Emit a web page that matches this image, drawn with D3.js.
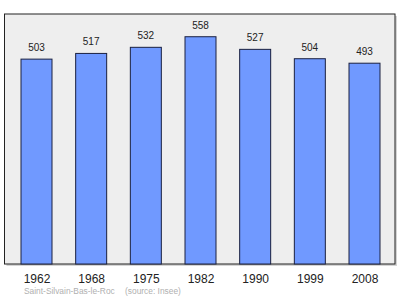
<!DOCTYPE html>
<html><head><meta charset="utf-8">
<script src="https://cdn.jsdelivr.net/npm/d3@7"></script>
<style>body{margin:0;background:#fff}svg{display:block}</style>
</head><body>
<svg id="c" width="400" height="299"></svg>
<script>
const years = ["1962","1968","1975","1982","1990","1999","2008"];
const population = [503,517,532,558,527,504,493];
const commune = "Saint-Silvain-Bas-le-Roc";
const source = "(source: Insee)";

const svg = d3.select("#c");
const frame = {l:4.5, t:14, r:395, b:264};
const x = d3.scalePoint().domain(years).range([36.5,364.5]);
const y = d3.scaleLinear().domain([0, 558*1.1]).range([frame.b, frame.t]);
const bw = 31;
const font = "'Liberation Sans', Arial, sans-serif";

svg.append("rect").attr("x",frame.l+2).attr("y",frame.t+2)
  .attr("width",frame.r-frame.l).attr("height",frame.b-frame.t).attr("fill","#d4d4d4");
svg.append("rect").attr("x",frame.l).attr("y",frame.t)
  .attr("width",frame.r-frame.l).attr("height",frame.b-frame.t)
  .attr("fill","#eeeeee").attr("stroke","#222").attr("stroke-width",1);

svg.selectAll("rect.bar").data(years).join("rect").attr("class","bar")
  .attr("x",d=>x(d)-bw/2).attr("width",bw)
  .attr("y",(d,i)=>y(population[i])).attr("height",(d,i)=>frame.b-y(population[i]))
  .attr("fill","#7099ff").attr("stroke","#1a2040").attr("stroke-width",1);

svg.selectAll("text.val").data(years).join("text").attr("class","val")
  .attr("x",d=>x(d)).attr("y",(d,i)=>y(population[i])-8)
  .attr("text-anchor","middle").attr("font-family",font).attr("font-size",10).attr("fill","#222")
  .text((d,i)=>population[i]);

const xa = svg.append("g").attr("transform",`translate(0,${frame.b})`)
  .call(d3.axisBottom(x).tickSize(0).tickPadding(10));
xa.select(".domain").remove();
xa.selectAll("text").attr("font-family",font).attr("font-size",12).attr("fill","#222");

svg.append("text").attr("x",24).attr("y",294).attr("font-family",font).attr("font-size",8.4)
  .attr("fill","#b0b0b0").text(commune);
svg.append("text").attr("x",125).attr("y",294).attr("font-family",font).attr("font-size",8.4)
  .attr("fill","#b0b0b0").text(source);
</script>
</body></html>
